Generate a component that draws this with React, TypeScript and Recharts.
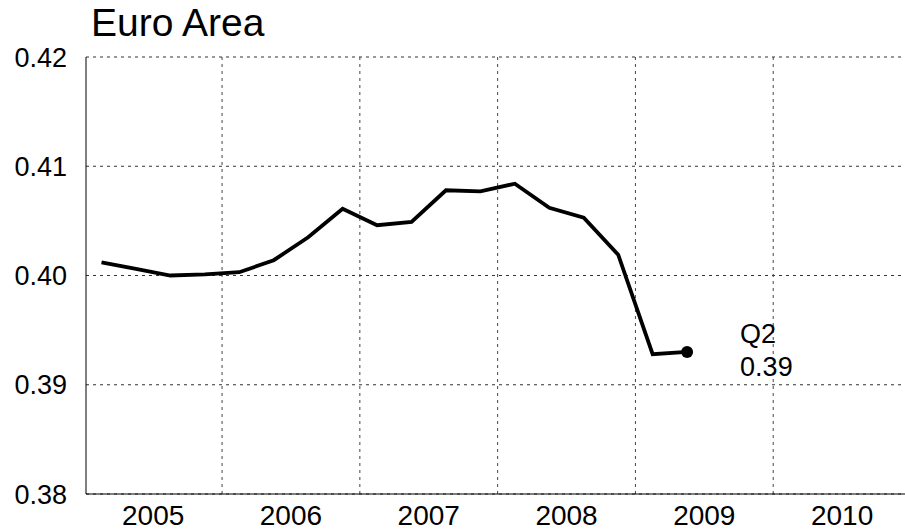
import React from 'react';
import { LineChart, Line, XAxis, YAxis, CartesianGrid, ReferenceLine } from 'recharts';

const title = 'Euro Area';
const years = [2005, 2005, 2005, 2005, 2006, 2006, 2006, 2006, 2007, 2007, 2007, 2007, 2008, 2008, 2008, 2008, 2009, 2009];
const quarters = [1, 2, 3, 4, 1, 2, 3, 4, 1, 2, 3, 4, 1, 2, 3, 4, 1, 2];
const values = [0.4012, 0.4006, 0.4000, 0.4001, 0.4003, 0.4014, 0.4035, 0.4061, 0.4046, 0.4049, 0.4078, 0.4077, 0.4084, 0.4062, 0.4053, 0.4019, 0.3928, 0.3930];
const yTicks = [0.38, 0.39, 0.40, 0.41, 0.42];
const yearLabels = [2005, 2006, 2007, 2008, 2009, 2010];
const yearBoundaries = [2006, 2007, 2008, 2009, 2010];

const data = values.map((v, i) => ({
  t: years[i] + (quarters[i] - 0.5) / 4,
  label: 'Q' + quarters[i],
  v,
}));

const FONT = '"Liberation Sans", Arial, Helvetica, sans-serif';
const lastIdx = data.length - 1;

const LastLabel = (props: any) => {
  const { x, y, index } = props;
  if (index !== lastIdx) return null;
  return (
    <g>
      <text x={x + 53} y={y - 9} fontSize={27} fontFamily={FONT} fill="#000">{data[lastIdx].label}</text>
      <text x={x + 53} y={y + 24} fontSize={27} fontFamily={FONT} fill="#000">{data[lastIdx].v.toFixed(2)}</text>
    </g>
  );
};

const LastDot = (props: any) => {
  const { cx, cy, index } = props;
  if (index !== lastIdx) return <g key={index} />;
  return <circle key={index} cx={cx} cy={cy} r={6} fill="#000" stroke="none" />;
};

export default function App() {
  return (
    <div style={{ position: 'absolute', left: 0, top: 0, width: 905, height: 531, overflow: 'hidden', background: '#fff' }}>
      <div style={{ position: 'absolute', left: 91, top: 4, fontFamily: FONT, fontSize: 39, lineHeight: '38px', color: '#000', whiteSpace: 'nowrap' }}>{title}</div>
      <div style={{ position: 'absolute', left: 0, top: 0 }}>
        <LineChart width={911} height={531} data={data} margin={{ top: 57, right: 0, bottom: 0, left: 0 }}>
          <CartesianGrid vertical={false} stroke="#333" strokeDasharray="3 4" />
          {yearBoundaries.map((b) => (
            <ReferenceLine key={b} x={b} stroke="#444" strokeDasharray="3 4" />
          ))}
          <XAxis
            dataKey="t"
            type="number"
            domain={[2005.0125, 2011]}
            ticks={yearLabels.map((y) => y + 0.5)}
            tickFormatter={(t: number) => String(Math.floor(t))}
            tickLine={false}
            tickSize={0}
            tickMargin={11}
            height={37}
            axisLine={{ stroke: '#000', strokeWidth: 1 }}
            tick={{ fill: '#000', fontSize: 28, fontFamily: FONT }}
            allowDataOverflow
          />
          <YAxis
            type="number"
            domain={[0.38, 0.42]}
            ticks={yTicks}
            tickFormatter={(v: number) => v.toFixed(2)}
            tickLine={false}
            tickSize={0}
            tickMargin={19}
            axisLine={{ stroke: '#000', strokeWidth: 1 }}
            tick={{ fill: '#000', fontSize: 27, fontFamily: FONT }}
            width={86}
            allowDataOverflow
          />
          <Line
            dataKey="v"
            stroke="#000"
            strokeWidth={3.8}
            dot={LastDot}
            activeDot={false}
            label={LastLabel}
            isAnimationActive={false}
          />
        </LineChart>
      </div>
    </div>
  );
}
